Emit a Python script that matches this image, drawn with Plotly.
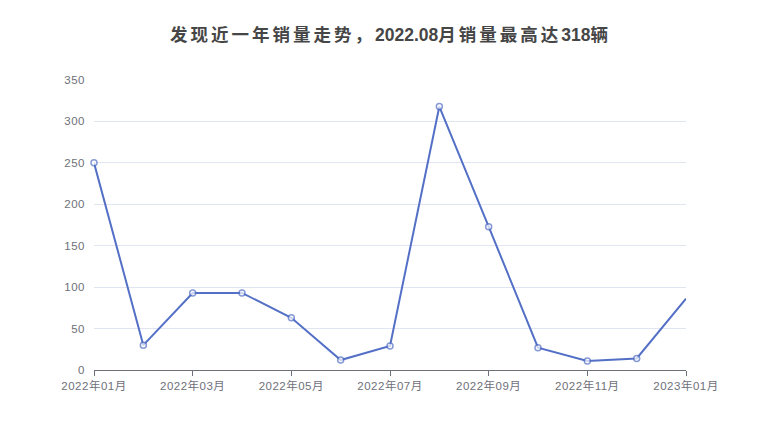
import plotly.graph_objects as go

months = ["2022年01月", "2022年02月", "2022年03月", "2022年04月", "2022年05月", "2022年06月",
          "2022年07月", "2022年08月", "2022年09月", "2022年10月", "2022年11月", "2022年12月",
          "2023年01月"]
sales = [250, 30, 93, 93, 63, 12, 29, 318, 173, 27, 11, 14, 86]
tick_labels = months[::2]
y_ticks = [0, 50, 100, 150, 200, 250, 300, 350]

marker_sizes = [6] * (len(months) - 1) + [0]
FONT = "Liberation Sans, Noto Sans CJK SC, sans-serif"


def spaced(s, px):
    return '<span style="letter-spacing:%spx">%s</span>' % (px, s)


title_text = ("<b>" + spaced("发现近一年销量走势，", 3) + "2022.08" + spaced("月销量最高达", 3)
              + "318" + "辆" + "</b>")

fig = go.Figure()
fig.add_trace(go.Scatter(
    x=months, y=sales, mode="lines+markers",
    line=dict(color="#5470c6", width=2),
    marker=dict(size=marker_sizes, color="#ffffff", line=dict(color="#5470c6", width=1.5)),
    cliponaxis=False, hoverinfo="x+y",
))

fig.update_layout(
    width=780, height=440,
    margin=dict(l=86, r=102, t=72, b=78),
    paper_bgcolor="#ffffff", plot_bgcolor="#ffffff",
    showlegend=False,
    font=dict(family=FONT, size=12, color="#6e7079"),
    title=dict(text=title_text,
               x=381 / 780, xanchor="center", y=1 - 27 / 440, yanchor="middle",
               font=dict(size=17.5, color="#464646", family=FONT)),
    xaxis=dict(
        type="category", range=[0, len(months) - 1],
        tickmode="array", tickvals=tick_labels,
        ticktext=[spaced(t, 0.5) for t in tick_labels],
        showgrid=False, showline=True, linecolor="#6e7079", linewidth=1,
        ticks="outside", ticklen=5, tickcolor="#6e7079",
        tickfont=dict(size=11.5, color="#6e7079"), zeroline=False,
    ),
    yaxis=dict(
        range=[0, 350], tickvals=y_ticks,
        ticktext=[spaced(str(v), 0.5) for v in y_ticks],
        showgrid=True, gridcolor="#e0e6f1", gridwidth=1,
        showline=False, zeroline=False, ticks="", ticklabelstandoff=8,
        tickfont=dict(size=11.5, color="#6e7079"),
    ),
)

fig.write_html("out.html")
